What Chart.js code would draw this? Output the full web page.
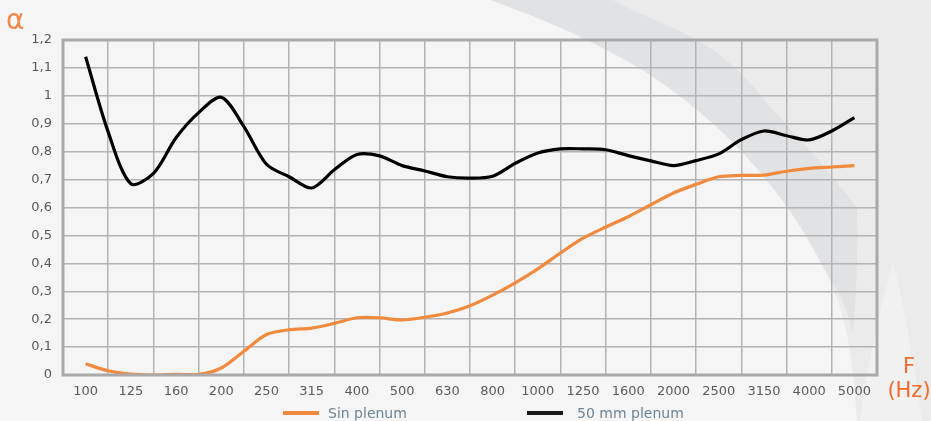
<!DOCTYPE html>
<html>
<head>
<meta charset="utf-8">
<script src="https://cdn.jsdelivr.net/npm/chart.js@4.4.1/dist/chart.umd.min.js"></script>
<style>
  html, body { margin: 0; padding: 0; background: #f5f5f5; }
  #wrap { position: relative; width: 931px; height: 421px; overflow: hidden; font-family: "DejaVu Sans", Verdana, sans-serif; }
  #bg { position: absolute; left: 0; top: 0; }
  #chart { position: absolute; left: 0; top: 0; }
  .axis-title { position: absolute; color: #f26b2b; text-align: center; }
  #legend { position: absolute; left: 0; top: 404px; width: 931px; height: 18px; font-size: 14px; color: #6f8494; }
  .item { position: absolute; top: 0; line-height: 18px; white-space: nowrap; }
  .swatch { display: inline-block; width: 36px; height: 4px; vertical-align: middle; position: relative; top: -1px; }
</style>
</head>
<body>
<div id="wrap">
  <svg id="bg" width="931" height="421">
    <path d="M490,0 C560,25 640,60 697,110 C740,145 790,200 823,267 C840,300 852,333 857,421 L931,421 L931,0 Z" fill="#ebebeb"/>
    <path d="M490,0 L613,0 C640,15 670,25 697,40 C740,65 760,95 773,110 C800,140 825,165 840,187 C850,198 856,205 857,210 C858,260 856,300 853,333 C845,300 835,285 823,267 C790,200 740,145 697,110 C640,60 560,25 490,0 Z" fill="#e1e2e4"/>
    <path d="M893,262 C880,310 866,370 860,421 L922,421 C915,370 905,310 893,262 Z" fill="#f1f1f1"/>
  </svg>
  <canvas id="chart" width="931" height="421"></canvas>
  <div class="axis-title" style="left:6px; top:3px; font-size:28px; color:#f28a4a;">α</div>
  <div class="axis-title" style="left:886px; top:354px; width:46px; font-size:21px; line-height:24px;">F<br>(Hz)</div>
  <div id="legend">
    <div class="item" style="left:283px;"><span class="swatch" style="background:#f28a3e; margin-right:9px;"></span>Sin plenum</div>
    <div class="item" style="left:527px;"><span class="swatch" style="background:#1a1a1a; margin-right:14px;"></span>50 mm plenum</div>
  </div>
</div>
<script>
// Bandas de frecuencia (Hz)
const categories = ['100', '125', '160', '200', '250', '315', '400', '500', '630',
    '800', '1000', '1250', '1600', '2000', '2500', '3150', '4000', '5000'];

// Etiquetas del eje Y (coeficiente de absorción)
const yTickLabels = ['0', '0,1', '0,2', '0,3', '0,4', '0,5', '0,6', '0,7', '0,8', '0,9', '1', '1,1', '1,2'];

// Posición de cada punto medido, en índice de banda (medios tercios)
const positions = [0, 0.5, 1, 1.5, 2, 2.5, 3, 3.5, 4, 4.5, 5, 5.5, 6, 6.5, 7, 7.5, 8, 8.5,
    9, 9.5, 10, 10.5, 11, 11.5, 12, 12.5, 13, 13.5, 14, 14.5, 15, 15.5, 16, 16.5, 17];

const sinPlenum = [0.04, 0.015, 0.003, 0, 0.002, 0.002, 0.025, 0.085, 0.145, 0.162, 0.168, 0.185,
    0.205, 0.205, 0.197, 0.207, 0.222, 0.248, 0.286, 0.33, 0.38, 0.437, 0.49, 0.53, 0.567, 0.61,
    0.652, 0.683, 0.71, 0.715, 0.716, 0.73, 0.74, 0.745, 0.75];

const plenum50 = [1.14, 0.87, 0.685, 0.722, 0.85, 0.94, 0.995, 0.89, 0.755, 0.71, 0.67, 0.735,
    0.79, 0.785, 0.75, 0.731, 0.71, 0.705, 0.712, 0.758, 0.795, 0.81, 0.81, 0.807, 0.786, 0.767,
    0.75, 0.768, 0.792, 0.843, 0.874, 0.857, 0.842, 0.874, 0.922];

const toPoints = values => values.map((v, i) => ({ x: positions[i], y: v }));

// Marco gris grueso alrededor del área del gráfico
const frame = {
    id: 'frame',
    afterDraw(chart) {
        const { ctx, chartArea: a } = chart;
        ctx.save();
        ctx.strokeStyle = '#a9a9a9';
        ctx.lineWidth = 3;
        ctx.strokeRect(a.left, a.top, a.right - a.left, a.bottom - a.top);
        ctx.restore();
    }
};

const ctx = document.getElementById('chart').getContext('2d');
new Chart(ctx, {
    type: 'line',
    data: {
        datasets: [
            {
                label: 'Sin plenum',
                data: toPoints(sinPlenum),
                borderColor: '#f28a3e',
                borderWidth: 3.2,
                pointRadius: 0,
                tension: 0.3
            },
            {
                label: '50 mm plenum',
                data: toPoints(plenum50),
                borderColor: '#000000',
                borderWidth: 3.2,
                pointRadius: 0,
                tension: 0.3
            }
        ]
    },
    options: {
        responsive: false,
        animation: false,
        layout: { padding: { top: 40, right: 54, bottom: 0, left: 0 } },
        scales: {
            x: {
                type: 'linear',
                min: -0.5,
                max: 17.5,
                afterBuildTicks: scale => {
                    scale.ticks = categories.map((c, i) => ({ value: i }));
                },
                afterFit: scale => { scale.height = 46; },
                grid: { offset: true, color: '#b3b3b3', lineWidth: 1.5, drawTicks: false },
                border: { display: false },
                ticks: {
                    padding: 9,
                    color: '#5a5a5a',
                    font: { family: 'DejaVu Sans', size: 13 },
                    maxRotation: 0,
                    autoSkip: false,
                    callback: (v, i) => categories[i]
                }
            },
            y: {
                min: 0,
                max: 1.2,
                afterFit: scale => { scale.width = 63; },
                grid: { color: '#b3b3b3', lineWidth: 1.5, drawTicks: false },
                border: { display: false },
                ticks: {
                    stepSize: 0.1,
                    padding: 11,
                    color: '#5a5a5a',
                    font: { family: 'DejaVu Sans', size: 13 },
                    callback: (v, i) => yTickLabels[i]
                }
            }
        },
        plugins: {
            legend: { display: false },
            tooltip: { enabled: false }
        }
    },
    plugins: [frame]
});
</script>
</body>
</html>
